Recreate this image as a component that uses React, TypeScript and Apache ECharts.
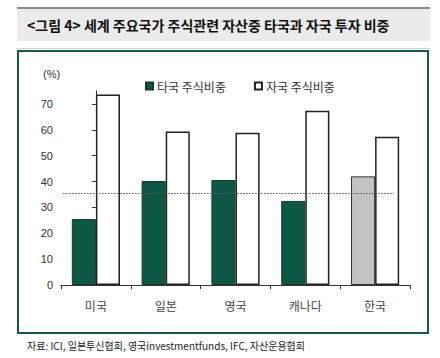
import React, { useEffect, useRef } from "react";
import * as echarts from "echarts";

const categories = ["미국", "일본", "영국", "캐나다", "한국"];
const foreignShare = [25.5, 40.2, 40.6, 32.5, 42.0];
const domesticShare = [73.6, 59.3, 58.9, 67.4, 57.3];
const referenceLevel = 35.5;
const referenceSpan = [-0.47, 4.27];
const seriesNames = ["타국 주식비중", "자국 주식비중"];
const titleText = "<그림 4> 세계 주요국가 주식관련 자산중 타국과 자국 투자 비중";
const sourceText = "자료: ICI, 일본투신협회, 영국investmentfunds, IFC, 자산운용협회";

const KR = '"Noto Sans CJK KR", "Noto Sans", sans-serif';
const GREEN = "#0d5844";

export default function App() {
  const ref = useRef<HTMLDivElement>(null);
  useEffect(() => {
    if (!ref.current) return;
    const chart = echarts.init(ref.current, null, { renderer: "svg" });
    chart.setOption({
      animation: false,
      backgroundColor: "#ffffff",
      graphic: [
        { type: "rect", shape: { x: 17, y: 9, width: 413, height: 32 }, style: { fill: "#ebebeb" }, z: 0 },
        { type: "rect", shape: { x: 17, y: 7, width: 413, height: 2 }, style: { fill: "#8a8a8a" }, z: 0 },
        { type: "line", shape: { x1: 17, y1: 48.5, x2: 430, y2: 48.5 }, style: { stroke: "#c9d6d0", lineWidth: 1 } },
        {
          type: "text", x: 27, y: 25,
          style: { text: titleText, font: `bold 14px ${KR}`, fill: "#111", textVerticalAlign: "middle" },
        },
        {
          type: "rect", shape: { x: 18, y: 51, width: 410, height: 282 },
          style: { fill: "none", stroke: "#17594a", lineWidth: 2 }, z: 0,
        },
        {
          type: "text", x: 43, y: 74,
          style: { text: "(%)", font: `11px "Liberation Sans", Arial, sans-serif`, fill: "#333", textVerticalAlign: "middle" },
        },
        {
          type: "text", x: 27, y: 345,
          style: { text: sourceText, font: `10px ${KR}`, fill: "#222", textVerticalAlign: "middle" },
        },
      ],
      legend: {
        left: 140, top: 75,
        itemWidth: 7, itemHeight: 7, itemGap: 28,
        icon: "rect",
        data: seriesNames,
        textStyle: { fontFamily: KR, fontSize: 12, color: "#333", padding: [0, 0, 0, -1] },
      },
      grid: { left: 61, right: 30, top: 91, bottom: 73, containLabel: false },
      xAxis: [
        {
          type: "category",
          data: categories,
          axisLine: { lineStyle: { color: "#333", width: 1 } },
          axisTick: { show: true, length: 4, lineStyle: { color: "#333" } },
          axisLabel: { fontFamily: KR, fontSize: 12, color: "#444", margin: 14 },
        },
        {
          type: "value",
          min: -0.5, max: 4.5,
          show: false,
          position: "bottom",
        },
      ],
      yAxis: {
        type: "value",
        min: 0, max: 75, interval: 10,
        splitLine: { show: false },
        axisLine: { show: true, lineStyle: { color: "#333", width: 1 } },
        axisTick: { show: true, length: 4, lineStyle: { color: "#333" } },
        axisLabel: {
          showMaxLabel: false,
          fontFamily: '"Liberation Sans", Arial, sans-serif', fontSize: 11, color: "#333", margin: 8,
        },
      },
      series: [
        {
          name: seriesNames[0],
          type: "bar",
          barGap: "0%",
          barCategoryGap: "31%",
          itemStyle: { color: GREEN, borderColor: "#163a30", borderWidth: 1 },
          data: foreignShare.map((v, i) =>
            i === categories.length - 1
              ? { value: v, itemStyle: { color: "#c3c3c3", borderColor: "#333", borderWidth: 1 } }
              : v
          ),
        },
        {
          name: seriesNames[1],
          type: "bar",
          itemStyle: { color: "#ffffff", borderColor: "#222", borderWidth: 1.5 },
          data: domesticShare,
        },
        {
          name: "기준선",
          type: "line",
          xAxisIndex: 1,
          data: [],
          symbol: "none",
          markLine: {
            silent: true,
            symbol: "none",
            label: { show: false },
            lineStyle: { type: [1.5, 1.5], color: "#555", width: 1 },
            data: [[{ coord: [referenceSpan[0], referenceLevel] }, { coord: [referenceSpan[1], referenceLevel] }]],
          },
        },
      ],
    });
    return () => chart.dispose();
  }, []);
  return <div ref={ref} style={{ position: "fixed", left: 0, top: 0, width: 440, height: 358 }} />;
}
